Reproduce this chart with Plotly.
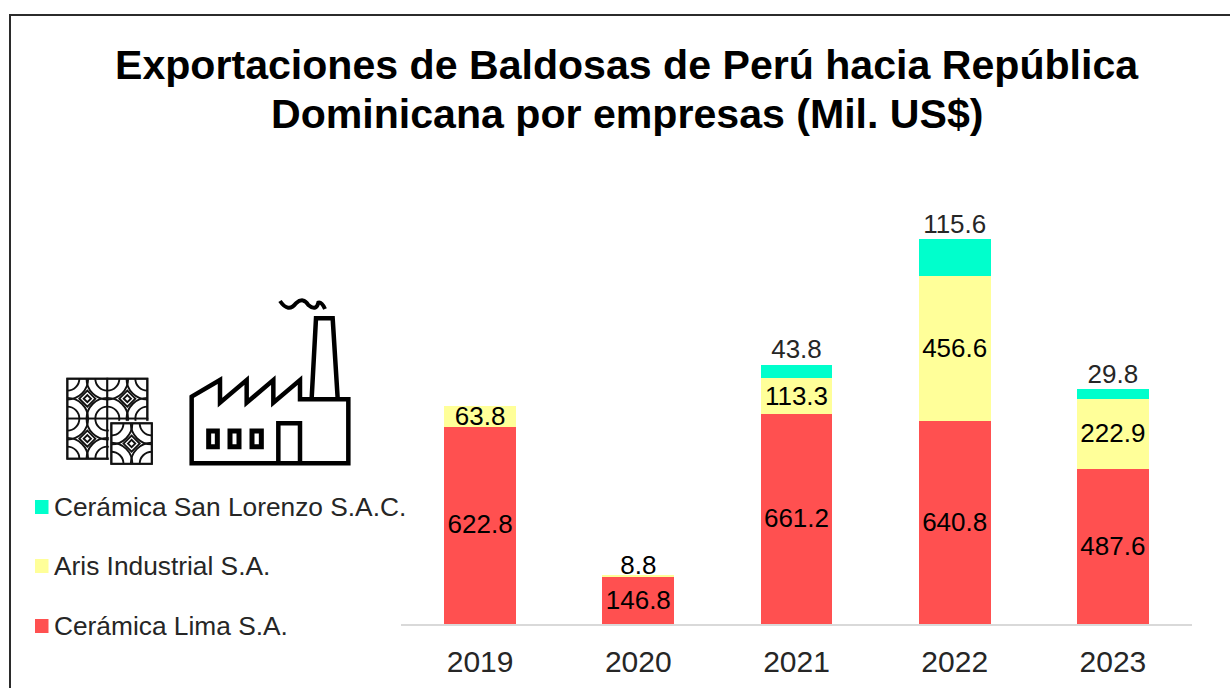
import plotly.graph_objects as go

years = ["2019", "2020", "2021", "2022", "2023"]
lima = [622.8, 146.8, 661.2, 640.8, 487.6]
aris = [63.8, 8.8, 113.3, 456.6, 222.9]
lorenzo = [None, None, 43.8, 115.6, 29.8]

TITLE_LINES = ["Exportaciones de Baldosas de Perú hacia República", "Dominicana por empresas (Mil. US$)"]
NAME_LIMA = "Cerámica Lima S.A."
NAME_ARIS = "Aris Industrial S.A."
NAME_LOR = "Cerámica San Lorenzo S.A.C."

RED, YEL, TEAL = "#FF5050", "#FFFF99", "#00FFCC"
FONT = "Liberation Sans, Arial, sans-serif"
W, H = 1230, 688
L, R, T, B = 401, 1192, 200, 624
YMAX = (B - T) / 0.317


def X(p):
    return (p - L) / (R - L)


def Y(p):
    return (B - p) / (B - T)


def path(cmds):
    out = []
    n = {"M": 1, "L": 1, "Q": 2, "C": 3}
    for c in cmds:
        if c == "Z":
            out.append("Z")
        else:
            op, pts = c[0], c[1:]
            k = n[op]
            for i in range(0, len(pts), k):
                out.append(op + " ".join(f"{X(a):.5f},{Y(b):.5f}" for a, b in pts[i:i + k]))
    return " ".join(out)


def zx(v):
    return 40 + v / 3


def zy(v):
    return 280 + v / 3


def zp(*pairs):
    return [(zx(a), zy(b)) for a, b in pairs]


shapes = []
annotations = []


def add_path(cmds, width, fill=None, color="#000000"):
    shapes.append(dict(type="path", xref="paper", yref="paper", path=path(cmds), layer="above",
                       line=dict(color=color, width=width),
                       fillcolor=fill if fill else "rgba(0,0,0,0)"))


# frame
add_path([("M", (10, 700)), ("L", (10, 15), (1240, 15))], 2, color="#2b2b2b")

# factory icon
add_path([("M", *zp((455, 350))),
          ("L", *zp((540, 300), (540, 368), (620, 300), (620, 368), (700, 300), (700, 368), (780, 300),
                    (780, 358), (925, 358), (925, 550), (455, 550))), "Z"], 4.5)
add_path([("M", *zp((815, 355))), ("L", *zp((828, 115), (878, 115), (893, 355)))], 4.5)
add_path([("M", *zp((720, 63))),
          ("Q", *zp((745, 100), (768, 70), (790, 50), (805, 75), (828, 95), (835, 68), (845, 65), (855, 87)))], 4)
for a, b in [(506, 532), (570, 597), (636, 664)]:
    add_path([("M", *zp((a, 453))), ("L", *zp((b, 453), (b, 500), (a, 500))), "Z"], 5)
add_path([("M", *zp((715, 550))), ("L", *zp((715, 430), (780, 430), (780, 550)))], 4.5)


# tile icon
def cell(x, y, s, lw=1.9):
    k = 0.5523
    add_path([("M", (x, y)), ("L", (x + s, y), (x + s, y + s), (x, y + s)), "Z"], lw, fill="#FFFFFF", color="#111111")
    for (cx, cy, dx, dy) in [(x, y, 1, 1), (x + s, y, -1, 1), (x, y + s, 1, -1), (x + s, y + s, -1, -1)]:
        for r in (0.30, 0.52):
            rr = r * s
            add_path([("M", (cx + dx * rr, cy)),
                      ("C", (cx + dx * rr, cy + dy * rr * k), (cx + dx * rr * k, cy + dy * rr), (cx, cy + dy * rr))],
                     lw, color="#111111")
    m = s / 2
    for d in (0.20, 0.09):
        dd = d * s
        add_path([("M", (x + m - dd, y + m)), ("L", (x + m, y + m - dd), (x + m + dd, y + m), (x + m, y + m + dd)), "Z"],
                 lw, color="#111111")


tx, ty, ts = zx(82), zy(296), 40
for i in range(2):
    for j in range(2):
        cell(tx + i * ts, ty + j * ts, ts)
add_path([("M", (tx, ty)), ("L", (tx + 2 * ts, ty), (tx + 2 * ts, ty + 2 * ts), (tx, ty + 2 * ts)), "Z"], 2, color="#111111")
sx, sy = zx(214), zy(430)
add_path([("M", (sx - 2, sy - 2)), ("L", (sx + 43, sy - 2), (sx + 43, sy + 43), (sx - 2, sy + 43)), "Z"], 1, fill="#FFFFFF", color="#FFFFFF")
cell(sx, sy, 40.5)
add_path([("M", (sx, sy)), ("L", (sx + 40.5, sy), (sx + 40.5, sy + 40.5), (sx, sy + 40.5)), "Z"], 2, color="#111111")

# legend: swatches and labels
for name, col, cy in [(NAME_LOR, TEAL, 507), (NAME_ARIS, YEL, 566), (NAME_LIMA, RED, 626)]:
    shapes.append(dict(type="rect", xref="paper", yref="paper", x0=X(35), x1=X(48.5), y0=Y(cy - 7), y1=Y(cy + 7),
                       fillcolor=col, line=dict(width=0)))
    annotations.append(dict(text=name, xref="paper", yref="paper", x=X(53), y=Y(cy), xanchor="left", yanchor="middle",
                            showarrow=False, borderpad=0, font=dict(family=FONT, size=26.3, color="#262626")))

# title
for line, cy in zip(TITLE_LINES, (65, 114)):
    annotations.append(dict(text=f"<b>{line}</b>", xref="paper", yref="paper", x=X(627), y=Y(cy), xanchor="center",
                            yanchor="middle", showarrow=False, font=dict(family=FONT, size=41.1, color="#000000")))

fig = go.Figure()
for name, vals, col in [(NAME_LIMA, lima, RED), (NAME_ARIS, aris, YEL), (NAME_LOR, lorenzo, TEAL)]:
    fig.add_bar(x=years, y=vals, name=name, marker=dict(color=col, line=dict(width=0)),
                showlegend=False, hoverinfo="x+y+name")

# labels centred in their segments; text sits a touch high, so nudge down slightly
NUDGE = 5
SHORT_LABEL_GAP = 29  # a segment too short to hold its label has it just over the bar
mid_x, mid_y, mid_t = [], [], []
top_x, top_y, top_t = [], [], []
for i, yr in enumerate(years):
    a, b, c = lima[i], aris[i], lorenzo[i]
    mid_x.append(yr); mid_y.append(a / 2 - NUDGE); mid_t.append(f"{a:.1f}")
    if c is None and b < 20:
        mid_x.append(yr); mid_y.append(a + b + SHORT_LABEL_GAP - NUDGE); mid_t.append(f"{b:.1f}")
    else:
        mid_x.append(yr); mid_y.append(a + b / 2 - NUDGE); mid_t.append(f"{b:.1f}")
    if c is not None:
        top_x.append(yr); top_y.append(a + b + c); top_t.append(f"{c:.1f}")

fig.add_scatter(x=mid_x, y=mid_y, text=mid_t, mode="text", textposition="middle center",
                textfont=dict(family=FONT, size=26, color="#000000"), showlegend=False, hoverinfo="skip")
fig.add_scatter(x=top_x, y=top_y, text=top_t, mode="text", textposition="top center",
                textfont=dict(family=FONT, size=26, color="#262626"), showlegend=False, hoverinfo="skip",
                cliponaxis=False)

fig.update_layout(
    width=W, height=H, autosize=False,
    margin=dict(l=L, r=W - R, t=T, b=H - B, pad=0, autoexpand=False),
    paper_bgcolor="#FFFFFF", plot_bgcolor="#FFFFFF",
    barmode="stack", bargap=0.545,
    showlegend=False,
    font=dict(family=FONT, color="#262626"),
    xaxis=dict(type="category", showgrid=False, zeroline=False, showline=True, linecolor="#D9D9D9", linewidth=1.5,
               ticks="", tickfont=dict(family=FONT, size=30, color="#262626"), ticklabelstandoff=10, automargin=False),
    yaxis=dict(range=[0, YMAX], visible=False),
    shapes=shapes,
    annotations=annotations,
)

fig.write_html("out.html", config=dict(displayModeBar=False),
               post_script="document.body.style.margin='0';document.documentElement.style.overflow='hidden';")
